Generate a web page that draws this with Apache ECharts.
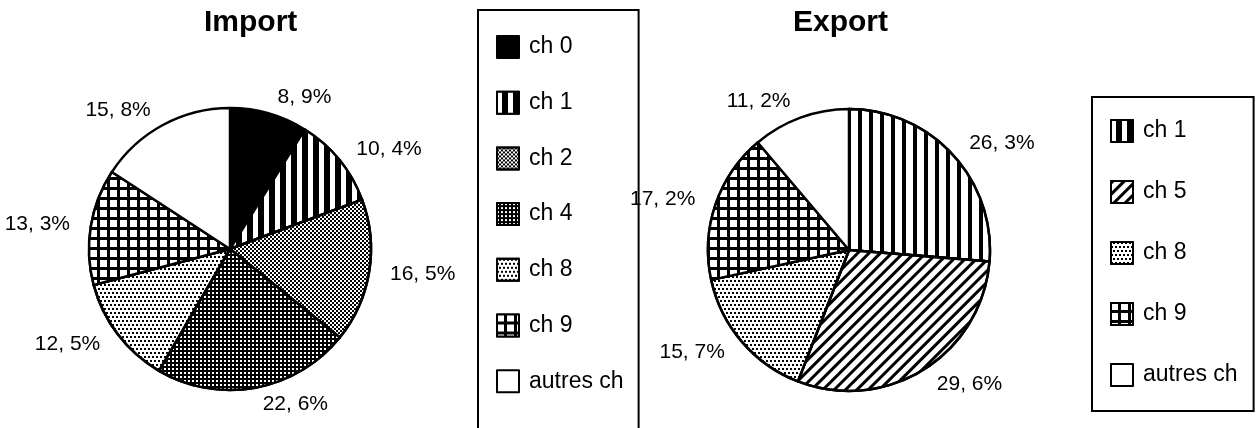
<!DOCTYPE html>
<html>
<head>
<meta charset="utf-8">
<script src="https://cdn.jsdelivr.net/npm/echarts@6/dist/echarts.min.js"></script>
<style>
  html, body { margin: 0; padding: 0; background: #fff; }
  #chart { width: 1257px; height: 428px; }
</style>
</head>
<body>
<div id="chart"></div>
<script>
// shares in %
const importNames = ["ch 0", "ch 1", "ch 2", "ch 4", "ch 8", "ch 9", "autres ch"];
const importValues = [8.9, 10.4, 16.5, 22.6, 12.5, 13.3, 15.8];
const exportNames = ["ch 1", "ch 5", "ch 8", "ch 9", "autres ch"];
const exportValues = [26.3, 29.6, 15.7, 17.2, 11.2];

const font = "Liberation Sans, Arial, Helvetica, sans-serif";

// black & white hatch patterns, one per chapter
function fillFor(name, side) {
  switch (name) {
    case "ch 0":
      return { color: "#000" };
    case "ch 1":
      if (side === "import") {
        return { color: "#000", decal: { symbol: "rect", symbolKeepAspect: false, color: "#fff", dashArrayX: [5, 6], dashArrayY: [1, 0] } };
      }
      return { color: "#fff", decal: { symbol: "rect", symbolKeepAspect: false, color: "#000", dashArrayX: [3.5, 6.5], dashArrayY: [1, 0] } };
    case "ch 2":
      return { color: "#fff", decal: { symbol: "rect", symbolKeepAspect: false, color: "#000", dashArrayX: [[2, 2], [0, 2, 2, 0]], dashArrayY: [2, 0] } };
    case "ch 4":
      return { color: "#000", decal: { symbol: "rect", symbolKeepAspect: false, color: "#fff", dashArrayX: [2, 2], dashArrayY: [2, 2] } };
    case "ch 5":
      return { color: "#fff", decal: { symbol: "rect", symbolKeepAspect: false, color: "#000", dashArrayX: [1, 0], dashArrayY: [2.5, 4.5], rotation: -Math.PI / 4 } };
    case "ch 8":
      return { color: "#fff", decal: { symbol: "rect", symbolKeepAspect: false, color: "#000", dashArrayX: [[2, 2], [0, 2, 2, 0]], dashArrayY: [2, 2] } };
    case "ch 9":
      return { color: "#000", decal: { symbol: "rect", symbolKeepAspect: false, color: "#fff", dashArrayX: [6.5, 2.5], dashArrayY: [6.5, 2.5] } };
    default:
      return { color: "#fff" };
  }
}

function pieData(names, values, side) {
  return names.map((n, i) => {
    const f = fillFor(n, side);
    const itemStyle = { color: f.color };
    if (f.decal) itemStyle.decal = f.decal;
    return { name: n, value: values[i], itemStyle: itemStyle };
  });
}

function pieSeries(name, center, data) {
  return {
    name: name,
    type: "pie",
    center: center,
    radius: 141,
    startAngle: 90,
    clockwise: true,
    silent: true,
    avoidLabelOverlap: false,
    itemStyle: { borderColor: "#000", borderWidth: 2.5 },
    label: {
      show: true,
      position: "outside",
      color: "#000",
      fontFamily: font,
      fontSize: 21,
      distanceToLabelLine: 4,
      formatter: (p) => p.value.toFixed(1).replace(".", ", ") + "%",
    },
    labelLine: { show: false, length: 17, length2: 0 },
    emphasis: { disabled: true },
    data: data,
  };
}

const legendBase = {
  orient: "vertical",
  icon: "rect",
  itemWidth: 22,
  itemHeight: 22,
  height: 1000,
  selectedMode: false,
  borderColor: "#000",
  borderWidth: 2,
  itemStyle: { borderColor: "#000", borderWidth: 2 },
  textStyle: { color: "#000", fontFamily: font, fontSize: 23, lineHeight: 22, padding: [0, 0, 0, 5] },
};

const titleStyle = { fontFamily: font, fontSize: 30, fontWeight: "bold", color: "#000" };

const chart = echarts.init(document.getElementById("chart"));

chart.setOption({
  animation: false,
  backgroundColor: "#fff",
  title: [
    { text: "Import", left: 204, top: 8, padding: 0, textStyle: titleStyle },
    { text: "Export", left: 793, top: 8, padding: 0, textStyle: titleStyle },
  ],
  legend: [
    Object.assign({}, legendBase, {
      data: importNames,
      left: 478,
      top: 10,
      itemGap: 31.7,
      padding: [25, 15, 60, 18],
    }),
    Object.assign({}, legendBase, {
      data: exportNames,
      left: 1092,
      top: 97,
      itemGap: 37,
      padding: [22, 16, 24, 18],
    }),
  ],
  series: [
    pieSeries("Import", [230, 249], pieData(importNames, importValues, "import")),
    pieSeries("Export", [849, 250], pieData(exportNames, exportValues, "export")),
  ],
});
</script>
</body>
</html>
